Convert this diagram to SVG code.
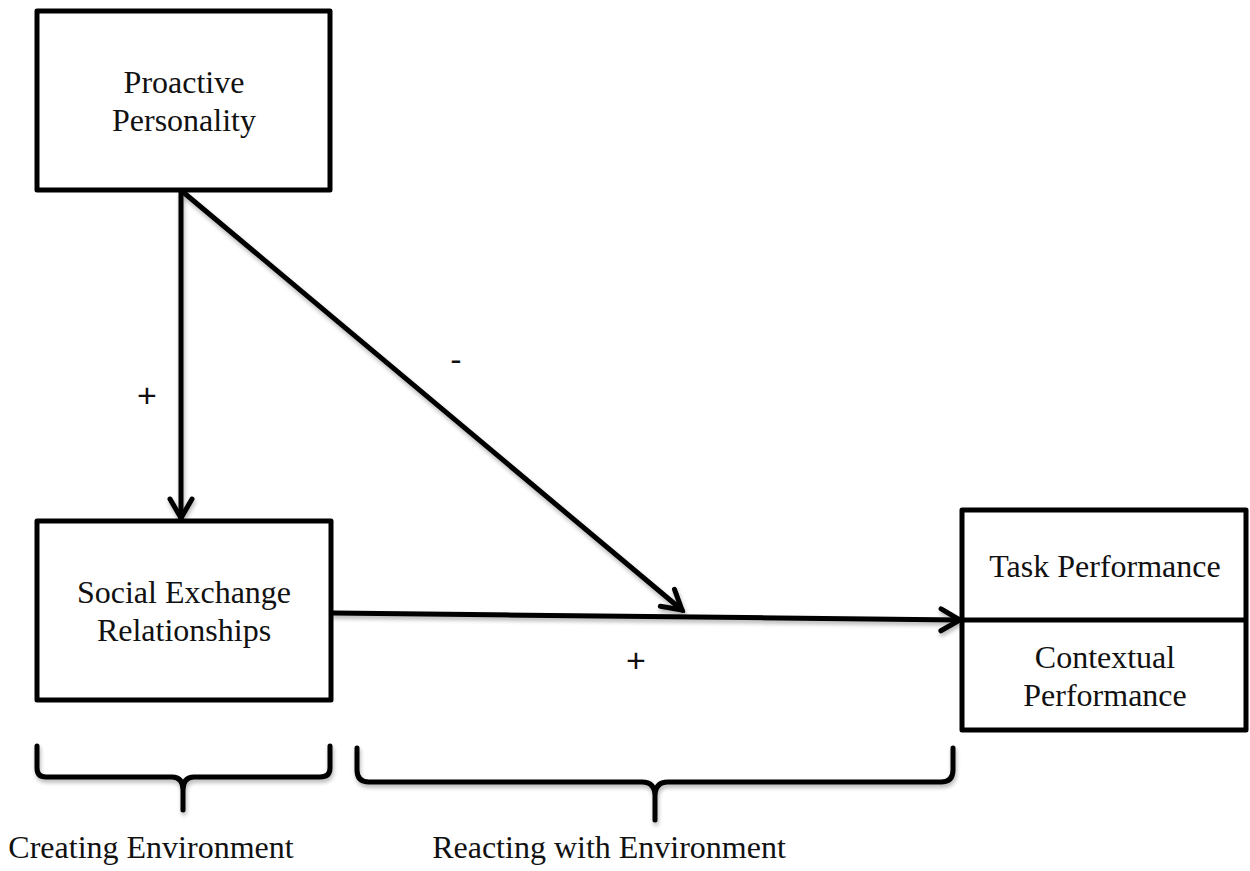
<svg xmlns="http://www.w3.org/2000/svg" width="1250" height="871" viewBox="0 0 1250 871">
<style>
.box{fill:#fff;stroke:#000;stroke-width:5;stroke-linejoin:round}
.t{font-family:"Liberation Serif","Times New Roman",serif;font-size:32px;fill:#111;text-anchor:middle}
.s{font-family:"Liberation Sans",Arial,sans-serif;font-size:34px;fill:#111;text-anchor:middle}
.ln{fill:none;stroke:#000;stroke-width:5;stroke-linecap:round}
.br{fill:none;stroke:#000;stroke-width:5;stroke-linecap:round;stroke-linejoin:round}
</style>
<defs>
<marker id="arr" viewBox="-22 -14 26 28" markerWidth="26" markerHeight="28" refX="0" refY="0" orient="auto" markerUnits="userSpaceOnUse">
<path d="M-19,-11 L0,0 L-19,11" fill="none" stroke="#000" stroke-width="5" stroke-linecap="round" stroke-linejoin="miter"/>
</marker>
<filter id="sh" x="-10%" y="-10%" width="120%" height="130%">
<feGaussianBlur in="SourceAlpha" stdDeviation="2"/>
<feOffset dx="1" dy="3" result="b"/>
<feComponentTransfer><feFuncA type="linear" slope="0.3"/></feComponentTransfer>
<feMerge><feMergeNode/><feMergeNode in="SourceGraphic"/></feMerge>
</filter>
</defs>
<rect width="1250" height="871" fill="#fff"/>
<g id="connectors" filter="url(#sh)">
<line class="ln" x1="181" y1="192" x2="181" y2="518" marker-end="url(#arr)"/>
<line class="ln" x1="183" y1="192" x2="682" y2="610" marker-end="url(#arr)"/>
<line class="ln" x1="333" y1="613" x2="960" y2="620" marker-end="url(#arr)"/>
</g>
<g id="node-proactive">
<rect class="box" x="37" y="11" width="293" height="179"/>
<text class="t" x="184" y="93">Proactive</text>
<text class="t" x="184" y="131">Personality</text>
</g>
<g id="node-social">
<rect class="box" x="37" y="521" width="294" height="179"/>
<text class="t" x="184" y="603">Social Exchange</text>
<text class="t" x="184" y="641">Relationships</text>
</g>
<g id="node-performance">
<rect class="box" x="962" y="510" width="284" height="220"/>
<line x1="962" y1="620" x2="1246" y2="620" stroke="#000" stroke-width="5"/>
<text class="t" x="1105" y="577">Task Performance</text>
<text class="t" x="1105" y="668">Contextual</text>
<text class="t" x="1105" y="706">Performance</text>
</g>
<g id="labels">
<text class="s" x="147" y="407">+</text>
<text class="s" x="456" y="371">-</text>
<text class="s" x="636" y="672">+</text>
</g>
<g id="brace-creating">
<path class="br" filter="url(#sh)" d="M37,746 L37,768 Q37,777 46,777 L172,777 Q183,777 183,790 L183,810 M183,790 Q183,777 194,777 L320,777 Q330,777 330,768 L330,746"/>
<text class="t" x="151" y="858">Creating Environment</text>
</g>
<g id="brace-reacting">
<path class="br" filter="url(#sh)" d="M357,748 L357,770 Q357,782 369,782 L642,782 Q655,782 655,796 L655,820 M655,796 Q655,782 668,782 L941,782 Q953,782 953,770 L953,748"/>
<text class="t" x="609" y="858">Reacting with Environment</text>
</g>
</svg>
